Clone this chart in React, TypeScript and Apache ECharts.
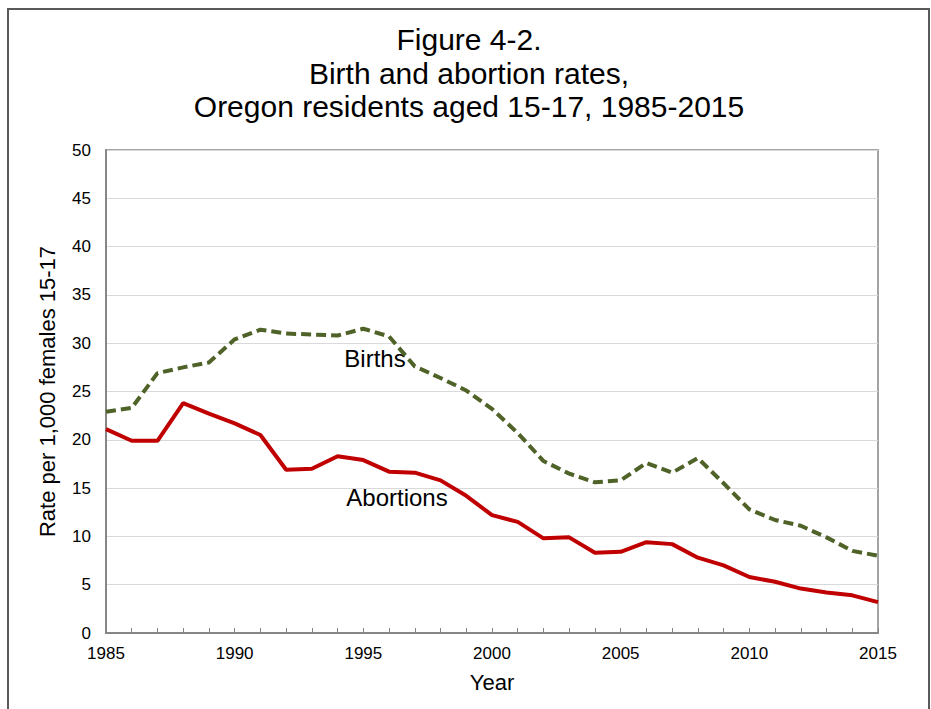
import React, { useEffect, useRef } from "react";
import * as echarts from "echarts";

const years = [1985,1986,1987,1988,1989,1990,1991,1992,1993,1994,1995,1996,1997,1998,1999,2000,2001,2002,2003,2004,2005,2006,2007,2008,2009,2010,2011,2012,2013,2014,2015];
const births = [22.9,23.3,26.9,27.5,28.0,30.4,31.4,31.0,30.9,30.8,31.5,30.7,27.6,26.4,25.1,23.2,20.7,17.8,16.5,15.6,15.8,17.6,16.6,18.1,15.5,12.8,11.7,11.1,9.9,8.5,8.0];
const abortions = [21.1,19.9,19.9,23.8,22.7,21.7,20.5,16.9,17.0,18.3,17.9,16.7,16.6,15.8,14.2,12.2,11.5,9.8,9.9,8.3,8.4,9.4,9.2,7.8,7.0,5.8,5.3,4.6,4.2,3.9,3.2];
const titleLines = ["Figure 4-2.", "Birth and abortion rates,", "Oregon residents aged 15-17, 1985-2015"];
const FONT = "'Liberation Sans', Arial, sans-serif";

export default function App() {
  const ref = useRef<HTMLDivElement>(null);
  useEffect(() => {
    const chart = echarts.init(ref.current!, null, { renderer: "svg" });
    chart.setOption({
      animation: false,
      backgroundColor: "#ffffff",
      textStyle: { fontFamily: FONT },
      title: {
        text: titleLines.join("\n"),
        left: 464,
        top: 18,
        textAlign: "center",
        textStyle: { fontFamily: FONT, fontSize: 30, fontWeight: "normal", color: "#000", lineHeight: 33.5 },
      },
      grid: { left: 106, top: 150, right: 53, bottom: 76, show: true, borderColor: "#868686", borderWidth: 1.5, containLabel: false },
      xAxis: {
        type: "value",
        min: 1985,
        max: 2015,
        interval: 1,
        name: "Year",
        nameLocation: "middle",
        nameGap: 38,
        nameTextStyle: { fontFamily: FONT, fontSize: 22, color: "#000" },
        axisLine: { show: true, lineStyle: { color: "#868686", width: 2 } },
        axisTick: { show: true, inside: true, length: 5, lineStyle: { color: "#868686", width: 1 } },
        axisLabel: {
          fontFamily: FONT, fontSize: 17, color: "#000", margin: 12,
          formatter: (v: number) => (v % 5 === 0 ? String(v) : ""),
        },
        splitLine: { show: false },
      },
      yAxis: {
        type: "value",
        min: 0,
        max: 50,
        interval: 5,
        name: "Rate per 1,000 females 15-17",
        nameLocation: "middle",
        nameGap: 48,
        nameTextStyle: { fontFamily: FONT, fontSize: 22, color: "#000" },
        axisLine: { show: true, lineStyle: { color: "#868686", width: 2 } },
        axisTick: { show: false },
        axisLabel: { fontFamily: FONT, fontSize: 17, color: "#000", margin: 15 },
        splitLine: { show: true, lineStyle: { color: "#d9d9d9", width: 1 } },
      },
      series: [
        {
          name: "Births",
          type: "line",
          data: years.map((y, i) => [y, births[i]]),
          showSymbol: false,
          lineStyle: { color: "#4F6228", width: 4, type: [10, 5] },
          z: 3,
        },
        {
          name: "Abortions",
          type: "line",
          data: years.map((y, i) => [y, abortions[i]]),
          showSymbol: false,
          lineStyle: { color: "#C00000", width: 4 },
          z: 4,
        },
      ],
      graphic: [
        { type: "rect", shape: { x: 8, y: 9, width: 921, height: 720 }, style: { fill: "none", stroke: "#595959", lineWidth: 2 }, silent: true },
        { type: "text", x: 375, y: 358, style: { text: "Births", font: `24px ${FONT}`, fill: "#000", textAlign: "center", textVerticalAlign: "middle" } },
        { type: "text", x: 397, y: 497, style: { text: "Abortions", font: `24px ${FONT}`, fill: "#000", textAlign: "center", textVerticalAlign: "middle" } },
      ],
    });
    return () => chart.dispose();
  }, []);
  return <div ref={ref} style={{ position: "fixed", left: 0, top: 0, width: 931, height: 709 }} />;
}
